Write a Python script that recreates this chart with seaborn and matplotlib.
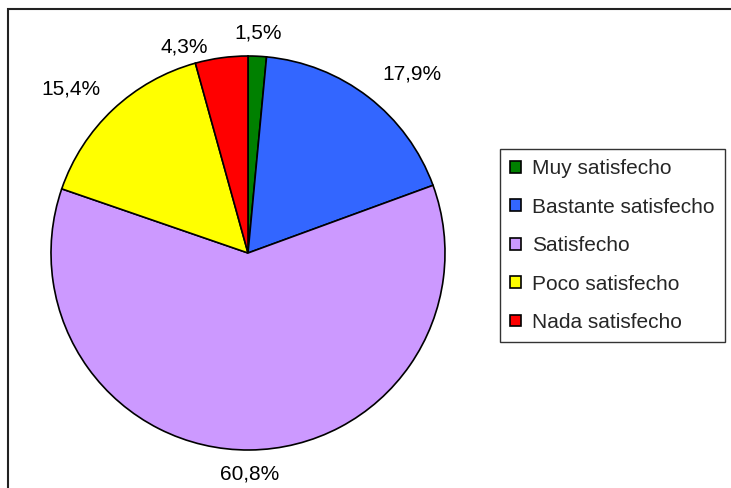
import matplotlib
matplotlib.use("Agg")
import matplotlib.pyplot as plt
import matplotlib.patches as mpatches
import seaborn as sns

sns.set_theme(style="white")
plt.rcParams['font.family'] = ['Liberation Sans', 'DejaVu Sans']

categorias = ["Muy satisfecho", "Bastante satisfecho", "Satisfecho",
              "Poco satisfecho", "Nada satisfecho"]
porcentajes = [1.5, 17.9, 60.8, 15.4, 4.3]
colores = ["#008000", "#3366FF", "#CC99FF", "#FFFF00", "#FF0000"]

etiquetas = [f"{v:.1f}%".replace(".", ",") for v in porcentajes]

W, H = 731, 488
fig = plt.figure(figsize=(W / 100, H / 100), dpi=100)
fig.patch.set_facecolor("white")

# pie centre ~ (248, 253) px, radius ~197 px
cx, cy, r = 248, 253, 197
ax = fig.add_axes([(cx - r) / W, 1 - (cy + r) / H, 2 * r / W, 2 * r / H])

wedges, texts = ax.pie(porcentajes, labels=etiquetas, colors=colores,
                       startangle=90, counterclock=False,
                       labeldistance=1.12,
                       wedgeprops=dict(edgecolor="black", linewidth=1.2),
                       textprops=dict(fontsize=15, color="black"))
ax.set_xlim(-1, 1)
ax.set_ylim(-1, 1)
ax.set_aspect("equal")
ax.axis("off")

# centred labels top and bottom like the original
texts[0].set_horizontalalignment("center")
texts[2].set_horizontalalignment("center")
# small nudges toward where excel put them
x, y = texts[3].get_position()
texts[3].set_position((x + 0.02, y + 0.015))
x, y = texts[4].get_position()
texts[4].set_position((x - 0.05, y - 0.065))
x, y = texts[1].get_position()
texts[1].set_position((x, y + 0.02))

leg = fig.legend(wedges, categorias, loc="upper left",
                 bbox_to_anchor=(500 / W, 1 - 149 / H), borderaxespad=0,
                 fontsize=15, frameon=True, fancybox=False,
                 handlelength=0.5, handleheight=0.5, handletextpad=0.55,
                 labelspacing=0.93, borderpad=0.5)
leg.get_frame().set_edgecolor("black")
leg.get_frame().set_linewidth(1.0)

# outer chart-area frame (cut off at right and bottom)
frame = mpatches.Rectangle((8 / W, -0.1), 2, 1 - 9 / H + 0.1,
                           transform=fig.transFigure, fill=False,
                           edgecolor="#222222", linewidth=1.5)
fig.patches.append(frame)

fig.savefig("out.png", dpi=100)
